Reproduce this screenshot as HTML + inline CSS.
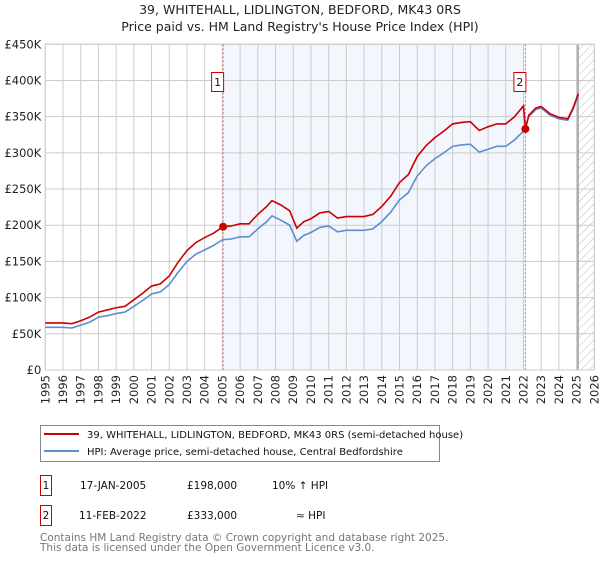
<!DOCTYPE html>
<html><head><meta charset="utf-8"><style>
body{margin:0;background:#fff;font-family:"DejaVu Sans","Liberation Sans",sans-serif;}
svg text{font-family:"DejaVu Sans","Liberation Sans",sans-serif;}
</style></head><body>
<svg id="c" width="600" height="560" xmlns="http://www.w3.org/2000/svg">
<defs><pattern id="hatch" width="6" height="6" patternUnits="userSpaceOnUse" patternTransform="rotate(45)"><line x1="0" y1="0" x2="0" y2="6" stroke="#bbb" stroke-width="1"/></pattern></defs>
<text x="300" y="14" text-anchor="middle" font-size="12.5" fill="#222">39, WHITEHALL, LIDLINGTON, BEDFORD, MK43 0RS</text>
<text x="300" y="31" text-anchor="middle" font-size="12.5" fill="#222">Price paid vs. HM Land Registry's House Price Index (HPI)</text>
<g id="plot"></g>
<rect x="40.5" y="425.5" width="399" height="36" fill="#fff" stroke="#888"/>
<line x1="44" y1="434" x2="79" y2="434" stroke="#cc0000" stroke-width="2"/>
<text x="87" y="438" font-size="10" fill="#111">39, WHITEHALL, LIDLINGTON, BEDFORD, MK43 0RS (semi-detached house)</text>
<line x1="44" y1="451" x2="79" y2="451" stroke="#5b8fd0" stroke-width="2"/>
<text x="87" y="455" font-size="10" fill="#111">HPI: Average price, semi-detached house, Central Bedfordshire</text>
<rect x="40.5" y="475.5" width="11" height="20" fill="none" stroke="#cc0000"/>
<text x="46" y="489" text-anchor="middle" font-size="10.5" fill="#111">1</text>
<text x="80" y="489" font-size="10.5" fill="#111">17-JAN-2005</text>
<text x="187" y="489" font-size="10.5" fill="#111">£198,000</text>
<text x="272" y="489" font-size="10.5" fill="#111">10% ↑ HPI</text>
<rect x="40.5" y="505.5" width="11" height="20" fill="none" stroke="#cc0000"/>
<text x="46" y="519" text-anchor="middle" font-size="10.5" fill="#111">2</text>
<text x="79" y="519" font-size="10.5" fill="#111">11-FEB-2022</text>
<text x="187" y="519" font-size="10.5" fill="#111">£333,000</text>
<text x="296" y="519" font-size="10.5" fill="#111">≈ HPI</text>
<text x="40" y="541" font-size="10.5" fill="#777">Contains HM Land Registry data © Crown copyright and database right 2025.</text>
<text x="40" y="551" font-size="10.5" fill="#777">This data is licensed under the Open Government Licence v3.0.</text>
</svg>
<script>
const hpiYears=[1995,1996,1996.5,1997,1997.5,1998,1998.5,1999,1999.5,2000,2000.5,2001,2001.5,2002,2002.5,2003,2003.5,2004,2004.5,2005,2005.5,2006,2006.5,2007,2007.5,2007.8,2008.3,2008.8,2009.2,2009.6,2010,2010.5,2011,2011.5,2012,2012.5,2013,2013.5,2014,2014.5,2015,2015.5,2016,2016.5,2017,2017.5,2018,2018.5,2019,2019.5,2020,2020.5,2021,2021.5,2022,2022.3,2022.7,2023,2023.5,2024,2024.5,2024.8,2025.1];
const hpiValues=[59,59,58,62,66,73,75,78,80,88,96,105,108,118,135,150,160,166,172,180,181,184,184,195,205,213,207,200,178,186,190,197,199,191,193,193,193,195,205,218,235,245,268,282,292,300,309,311,312,301,305,309,309,318,330,350,360,362,352,347,345,360,380];
const priceYears=[1995,1996,1996.5,1997,1997.5,1998,1998.5,1999,1999.5,2000,2000.5,2001,2001.5,2002,2002.5,2003,2003.5,2004,2004.5,2005.04,2005.5,2006,2006.5,2007,2007.5,2007.8,2008.3,2008.8,2009.2,2009.6,2010,2010.5,2011,2011.5,2012,2012.5,2013,2013.5,2014,2014.5,2015,2015.5,2016,2016.5,2017,2017.5,2018,2018.5,2019,2019.5,2020,2020.5,2021,2021.5,2022.0,2022.11,2022.3,2022.7,2023,2023.5,2024,2024.5,2024.8,2025.1];
const priceValues=[65,65,64,68,73,80,83,86,88,97,106,116,119,130,149,165,176,183,189,198,199,202,202,215,226,234,228,220,196,205,209,217,219,210,212,212,212,215,226,240,259,270,295,310,321,330,340,342,343,331,336,340,340,350,365,333,352,362,364,354,349,347,362,382];
const yTicks=[0,50,100,150,200,250,300,350,400,450];
const xTicks=[1995,1996,1997,1998,1999,2000,2001,2002,2003,2004,2005,2006,2007,2008,2009,2010,2011,2012,2013,2014,2015,2016,2017,2018,2019,2020,2021,2022,2023,2024,2025,2026];
const sales=[{n:"1",t:2005.04,v:198},{n:"2",t:2022.11,v:333}];
const X0=45.3,X1=594.3,Y0=370,Y1=44.3;
const xs=t=>X0+(t-1995)/31*(X1-X0);
const ys=v=>Y0-v/450*(Y0-Y1);
const NS="http://www.w3.org/2000/svg";
const g=document.getElementById('plot');
function mk(tag,at){const e=document.createElementNS(NS,tag);for(const k in at)e.setAttribute(k,at[k]);g.appendChild(e);return e;}
let r=mk('rect',{x:xs(2005.04),y:Y1,width:xs(2022.11)-xs(2005.04),height:Y0-Y1,fill:'#f3f6fd'});


r=mk('rect',{x:xs(2025.08),y:Y1,width:X1-xs(2025.08),height:Y0-Y1,fill:'url(#hatch)'});


for(const v of yTicks){
 const l=mk('line',{x1:X0,x2:X1,y1:ys(v),y2:ys(v),stroke:'#ccc','stroke-width':1});
 
 
 const t=mk('text',{x:X0-4,y:ys(v)+4,'text-anchor':'end','font-size':'11.5',fill:'#222'});
 t.textContent=v===0?'£0':'£'+v+'K';
 
 
}
for(const y of xTicks){
 const l=mk('line',{x1:xs(y),x2:xs(y),y1:Y1,y2:Y0,stroke:'#ccc','stroke-width':1});
 
 
 const px=xs(y)+4,py=375;
 const t=mk('text',{x:px,y:py,'text-anchor':'end','font-size':'11.5',fill:'#222',transform:'rotate(-90 '+px+' '+py+')'});
 t.textContent=y;
 
 
}
const fl=mk('line',{x1:xs(2025.08),x2:xs(2025.08),y1:Y1,y2:Y0,stroke:'#999','stroke-width':1.5});


const br=mk('rect',{x:X0,y:Y1,width:X1-X0,height:Y0-Y1,fill:'none',stroke:'#ccc'});


for(const s of sales){
 const l=mk('line',{x1:xs(s.t),x2:xs(s.t),y1:Y1,y2:Y0,stroke:'#e06060','stroke-width':1,'stroke-dasharray':'2,2'});
 
 
 const b=mk('rect',{x:xs(s.t)-11.5,y:72.5,width:12,height:19,fill:'#fff',stroke:'#cc0000'});
 
 
 const t=mk('text',{x:xs(s.t)-5.5,y:86,'text-anchor':'middle','font-size':'11',fill:'#111'});
 t.textContent=s.n;
 
 
}
const hp=mk('polyline',{points:hpiYears.map((t,i)=>xs(t)+','+ys(hpiValues[i])).join(' '),fill:'none',stroke:'#5b8fd0','stroke-width':1.6});


const pp=mk('polyline',{points:priceYears.map((t,i)=>xs(t)+','+ys(priceValues[i])).join(' '),fill:'none',stroke:'#cc0000','stroke-width':1.6});


for(const s of sales){
 const c=mk('circle',{cx:xs(s.t),cy:ys(s.v),r:4,fill:'#cc0000'});
 
 
}
</script>
</body></html>
